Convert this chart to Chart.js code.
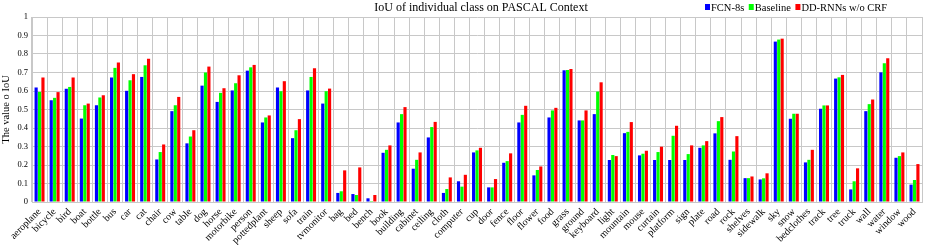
<!DOCTYPE html>
<html>
<head>
<meta charset="utf-8">
<script src="https://cdn.jsdelivr.net/npm/chart.js@4"></script>
<style>
  html, body { margin: 0; padding: 0; background: #ffffff; }
  #wrap { width: 927px; height: 245px; position: relative; }
</style>
</head>
<body>
<div id="wrap"><canvas id="c" width="927" height="245"></canvas></div>
<script>
const chartTitle = "IoU of individual class on PASCAL Context";
const yAxisTitle = "The value o IoU";
const seriesNames = ["FCN-8s", "Baseline", "DD-RNNs w/o CRF"];
const seriesColors = ["#0000ff", "#00ff00", "#ff0000"];

const categories = ["aeroplane","bicycle","bird","boat","bottle","bus","car","cat","chair","cow",
  "table","dog","horse","motorbike","person","pottedplant","sheep","sofa","train","tvmonitor",
  "bag","bed","bench","book","building","cabinet","ceiling","cloth","computer","cup",
  "door","fence","floor","flower","food","grass","ground","keyboard","light","mountain",
  "mouse","curtain","platform","sign","plate","road","rock","shelves","sidewalk","sky",
  "snow","bedclothes","track","tree","truck","wall","water","window","wood"];

const fcn8s = [0.619,0.550,0.612,0.451,0.523,0.673,0.601,0.676,0.230,0.491,
  0.317,0.629,0.541,0.603,0.710,0.430,0.619,0.345,0.603,0.532,
  0.049,0.043,0.020,0.266,0.430,0.180,0.349,0.049,0.112,0.268,
  0.079,0.212,0.430,0.144,0.457,0.712,0.441,0.475,0.227,0.372,
  0.252,0.227,0.227,0.227,0.293,0.371,0.228,0.129,0.122,0.867,
  0.450,0.214,0.504,0.667,0.068,0.491,0.701,0.239,0.094];

const baseline = [0.595,0.563,0.622,0.523,0.565,0.725,0.658,0.739,0.270,0.523,
  0.354,0.700,0.590,0.642,0.728,0.457,0.599,0.388,0.676,0.599,
  0.058,0.038,0.005,0.282,0.475,0.228,0.405,0.070,0.083,0.279,
  0.079,0.221,0.471,0.173,0.495,0.714,0.441,0.597,0.254,0.379,
  0.261,0.270,0.358,0.259,0.306,0.437,0.273,0.129,0.128,0.878,
  0.477,0.228,0.522,0.674,0.112,0.529,0.750,0.248,0.119];

const ddRnns = [0.673,0.594,0.673,0.532,0.577,0.754,0.691,0.775,0.311,0.568,
  0.388,0.732,0.615,0.685,0.741,0.468,0.653,0.448,0.723,0.613,
  0.171,0.187,0.038,0.306,0.513,0.268,0.433,0.133,0.147,0.293,
  0.124,0.263,0.520,0.192,0.509,0.719,0.495,0.647,0.248,0.432,
  0.277,0.299,0.412,0.306,0.329,0.459,0.356,0.138,0.155,0.883,
  0.477,0.282,0.522,0.687,0.182,0.554,0.777,0.268,0.205];

const yTicks = [0,0.1,0.2,0.3,0.4,0.5,0.6,0.7,0.8,0.9,1];

const FONT = "'Liberation Serif', 'Times New Roman', serif";
const GRID = "#c8c8c8";

const headerPlugin = {
  id: "header",
  afterDraw(chart) {
    const ctx = chart.ctx;
    ctx.save();
    ctx.fillStyle = "#000";
    ctx.font = "12px " + FONT;
    ctx.textAlign = "center";
    ctx.textBaseline = "alphabetic";
    ctx.fillText(chartTitle, 481, 11);
    // legend
    ctx.font = "10.5px " + FONT;
    ctx.textAlign = "left";
    let x = 705;
    seriesNames.forEach((name, i) => {
      ctx.fillStyle = seriesColors[i];
      ctx.fillRect(x, 4, 5, 6);
      x += 6;
      ctx.fillStyle = "#000";
      ctx.fillText(name, x, 11);
      x += ctx.measureText(name).width + 4.5;
    });
    ctx.restore();
  }
};

const datasets = seriesNames.map((name, i) => ({
  label: name,
  data: [fcn8s, baseline, ddRnns][i],
  backgroundColor: seriesColors[i],
  borderWidth: 0,
  categoryPercentage: 0.68,
  barPercentage: 0.92
}));

new Chart(document.getElementById("c"), {
  type: "bar",
  data: { labels: categories, datasets },
  plugins: [headerPlugin],
  options: {
    responsive: false,
    animation: false,
    devicePixelRatio: 1,
    layout: { padding: { top: 17, right: 2, left: 0, bottom: 0 } },
    plugins: {
      legend: { display: false },
      title: { display: false },
      tooltip: { enabled: false }
    },
    scales: {
      x: {
        grid: { color: GRID, drawTicks: false, offset: true },
        border: { color: GRID },
        ticks: {
          autoSkip: false,
          maxRotation: 45,
          minRotation: 45,
          padding: 4,
          color: "#000",
          font: { family: FONT, size: 10 }
        },
        afterFit(scale) { scale.height = 43; }
      },
      y: {
        min: 0,
        max: 1,
        grid: { color: GRID, drawTicks: false },
        border: { color: GRID },
        afterBuildTicks(scale) { scale.ticks = yTicks.map(v => ({ value: v })); },
        ticks: {
          padding: 4,
          color: "#000",
          font: { family: FONT, size: 8.5 },
          callback: v => String(Math.round(v * 10) / 10)
        },
        title: {
          display: true,
          text: yAxisTitle,
          color: "#000",
          font: { family: FONT, size: 10.5 },
          padding: { top: 0, bottom: 0 }
        },
        afterFit(scale) { scale.width = 32; }
      }
    }
  }
});
</script>
</body>
</html>
